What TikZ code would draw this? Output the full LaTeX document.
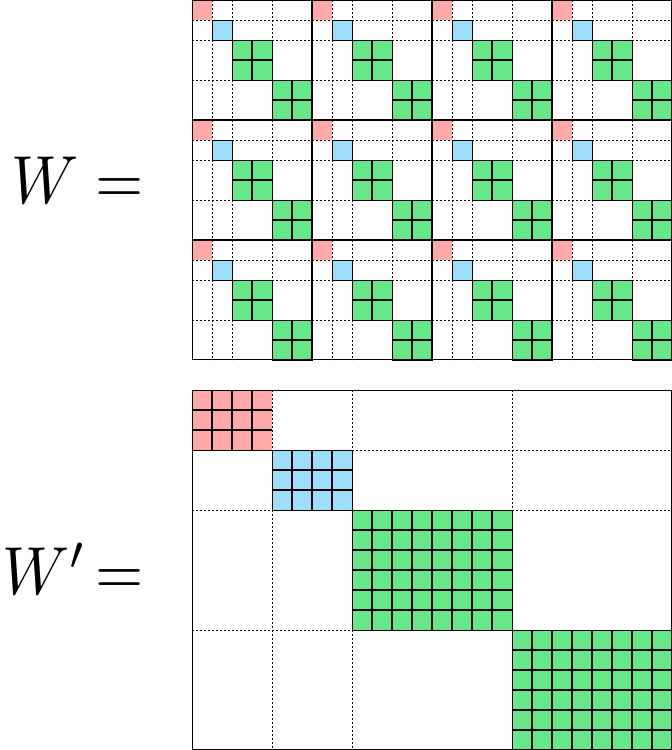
\documentclass[tikz,border=0pt]{standalone}
\definecolor{cpink}{RGB}{255,168,168}
\definecolor{cblue}{RGB}{158,222,252}
\definecolor{cgreen}{RGB}{102,232,136}
\tikzset{
  dashline/.style={line width=0.8pt, dash pattern=on 2pt off 2pt},
  innerline/.style={line width=1.5pt},
  outerline/.style={line width=0.8pt},
  blockline/.style={line width=1.6pt},
  frameline/.style={line width=1pt},
  lbl/.style={inner sep=0pt, anchor=base east, xscale=6.2, yscale=6.8}
}
\begin{document}
\begin{tikzpicture}[x=1pt,y=-1pt]
\useasboundingbox (0,0) rectangle (672,750);
% ---------- W ----------
\foreach \i in {0,1,2}{
  \foreach \j in {0,1,2,3}{
    \begin{scope}[shift={(192+120*\j,120*\i)}]
      \fill[cpink] (0,0) rectangle (20,20);
      \fill[cblue] (20,20) rectangle (40,40);
      \fill[cgreen] (40,40) rectangle (80,80);
      \fill[cgreen] (80,80) rectangle (120,120);
      \foreach \p in {20,40,80}{
        \draw[dashline] (\p,0) -- (\p,120);
        \draw[dashline] (0,\p) -- (120,\p);
      }
      \draw[outerline] (20,20) rectangle (40,40);
      \draw[innerline] (60,40) -- (60,80) (40,60) -- (80,60);
      \draw[innerline] (100,80) -- (100,120) (80,100) -- (120,100);
      \draw[outerline] (40,40) rectangle (80,80);
      \draw[outerline] (80,80) rectangle (120,120);
    \end{scope}
  }
}
\foreach \x in {312,432,552} \draw[blockline] (\x,0) -- (\x,360);
\foreach \y in {120,240} \draw[blockline] (192,\y) -- (672,\y);
\draw[frameline] (192.5,0.5) rectangle (671.5,359.5);
% ---------- W' ----------
\fill[cpink] (192,390) rectangle (272,450);
\fill[cblue] (272,450) rectangle (352,510);
\fill[cgreen] (352,510) rectangle (512,630);
\fill[cgreen] (512,630) rectangle (672,750);
\foreach \x in {272,352,512} \draw[dashline] (\x,390) -- (\x,750);
\foreach \y in {450,510,630} \draw[dashline] (192,\y) -- (672,\y);
% pink cells
\foreach \x in {212,232,252} \draw[innerline] (\x,390) -- (\x,450);
\foreach \y in {410,430} \draw[innerline] (192,\y) -- (272,\y);
\draw[outerline] (192,450) -- (272,450);
% blue cells
\foreach \x in {292,312,332} \draw[innerline] (\x,450) -- (\x,510);
\foreach \y in {470,490} \draw[innerline] (272,\y) -- (352,\y);
\draw[outerline] (272,450) rectangle (352,510);
% green cells 1
\foreach \x in {372,392,...,492} \draw[innerline] (\x,510) -- (\x,630);
\foreach \y in {530,550,...,610} \draw[innerline] (352,\y) -- (512,\y);
\draw[outerline] (352,510) rectangle (512,630);
% green cells 2
\foreach \x in {532,552,...,652} \draw[innerline] (\x,630) -- (\x,750);
\foreach \y in {650,670,...,730} \draw[innerline] (512,\y) -- (672,\y);
\draw[outerline] (512,630) rectangle (672,750);
\draw[frameline] (192.5,390.5) rectangle (671.5,749.5);
% ---------- labels ----------
\node[lbl] (lw) at (145,203) {$W =$};
\node[lbl] (lwp) at (145,594) {$W'\mkern-2.5mu=$};
\end{tikzpicture}
\end{document}
